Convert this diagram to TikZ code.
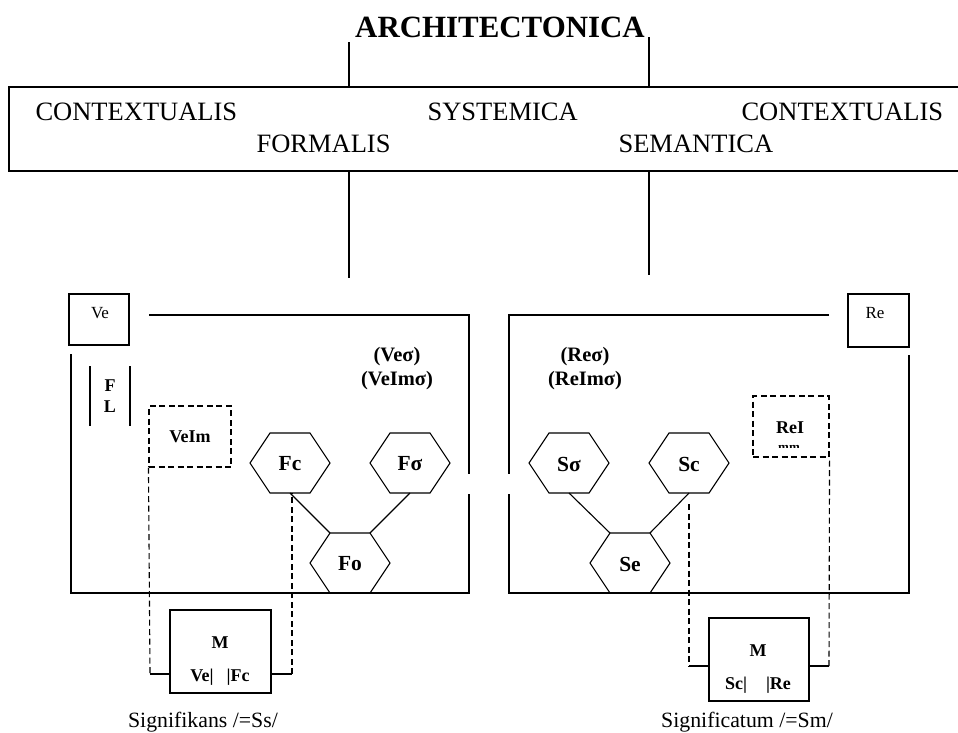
\documentclass[tikz,border=0pt]{standalone}
\usepackage{fontspec}
\setmainfont{Liberation Serif}
\usetikzlibrary{calc}
\tikzset{
  boxst/.style={draw, rectangle, inner sep=0pt},
  dsh/.style={dash pattern=on 6pt off 3.5pt},
  bigtxt/.style={font=\fontsize{26.5}{30}\selectfont, inner sep=0pt, anchor=base west},
  titlest/.style={font=\fontsize{30.9}{34}\selectfont\bfseries, inner sep=0pt, anchor=base},
  hexlabel/.style={font=\fontsize{21.5}{24}\selectfont\bfseries, inner sep=0pt},
  pantxt/.style={font=\fontsize{20.5}{23}\selectfont\bfseries, inner sep=0pt},
  smalltxt/.style={font=\fontsize{17}{19}\selectfont, inner sep=0pt},
  boldsm/.style={font=\fontsize{18}{20}\selectfont\bfseries, inner sep=0pt},
  captxt/.style={font=\fontsize{21.8}{25}\selectfont, inner sep=0pt},
}
\newcommand{\hexa}[4]{%
  \coordinate (#1-c) at (#2,#3);
  \draw ($(#1-c)+(-40,0)$) -- ($(#1-c)+(-20,-30)$) -- ($(#1-c)+(20,-30)$) -- ($(#1-c)+(40,0)$) -- ($(#1-c)+(20,30)$) -- ($(#1-c)+(-20,30)$) -- cycle;
  \coordinate (#1-tl) at ($(#1-c)+(-20,-30)$);
  \coordinate (#1-tr) at ($(#1-c)+(20,-30)$);
  \coordinate (#1-b) at ($(#1-c)+(0,30)$);
  \node[hexlabel] (#1) at ($(#1-c)+(0,1)$) {#4};
}
\begin{document}
\begin{tikzpicture}[x=1pt, y=-1pt, line width=1.1pt]
\useasboundingbox (0,0) rectangle (958,732);

% title and top frame
\node[titlest] (title) at (500,37) {ARCHITECTONICA};
\draw (9,87) rectangle (965,171);
\coordinate (big-tl) at (349,87);
\coordinate (big-tr) at (649,87);
\coordinate (big-bl) at (349,171);
\coordinate (big-br) at (649,171);
\coordinate (t1) at (349,42);
\coordinate (t2) at (649,37);
\coordinate (b1) at (349,278);
\coordinate (b2) at (649,275);
\draw (t1) -- (big-tl);
\draw (t2) -- (big-tr);
\draw (big-bl) -- (b1);
\draw (big-br) -- (b2);

\node[bigtxt] (c1) at (35,120) {CONTEXTUALIS};
\node[bigtxt] (sy) at (427,120) {SYSTEMICA};
\node[bigtxt] (c2) at (741,120) {CONTEXTUALIS};
\node[bigtxt] (fo) at (256,152) {FORMALIS};
\node[bigtxt] (se) at (618,152) {SEMANTICA};

% left panel
\node[boxst, minimum width=60, minimum height=51] (vebox) at (99,319.5) {};
\node[smalltxt] (vetxt) at (100,313) {Ve};
\draw (149,315) -- (469,315) -- (469,474);
\draw (469,494) -- (469,593) -- (71,593) -- (71,354);
\draw (90,366) -- (90,426);
\draw (130,366) -- (130,426);
\node[boldsm] (ftxt) at (110,386) {F};
\node[boldsm] (ltxt) at (110,407) {L};
\node[pantxt] (vesig) at (397,357) {(Veσ)};
\node[pantxt] (veimsig) at (397,381) {(VeImσ)};
\node[boxst, dsh, minimum width=82, minimum height=61] (veim) at (190,436.5) {};
\node[boldsm] (veimtxt) at (190,437) {VeIm};

\hexa{Fc}{290}{463}{Fc}
\hexa{Fs}{410}{463}{Fσ}
\hexa{Fo}{350}{563}{Fo}
\draw (Fc-b) -- (Fo-tl);
\draw (Fs-b) -- (Fo-tr);

\node[boxst, minimum width=101, minimum height=83] (mleft) at (220.5,651.5) {};
\node[boldsm] (mlt) at (220,643) {M};
\node[boldsm] (mlb) at (220,677) {Ve|\hspace{13pt}|Fc};
\coordinate (lk1) at (150,674);
\coordinate (lk2) at (292,674);
\draw[dsh] (veim.south west) -- (lk1);
\draw (lk1) -- (lk1 -| mleft.west);
\draw (mleft.east |- lk2) -- (lk2);
\draw[dsh] (lk2) -- (lk2 |- Fc-b);
\node[captxt] (sgk) at (203,722) {Signifikans /=Ss/};

% right panel
\node[boxst, minimum width=61, minimum height=53] (rebox) at (878.5,320.5) {};
\node[smalltxt] (retxt) at (875,313) {Re};
\draw (829,315) -- (509,315) -- (509,474);
\draw (509,494) -- (509,593) -- (909,593) -- (909,355);
\node[pantxt] (resig) at (585,357) {(Reσ)};
\node[pantxt] (reimsig) at (585,381) {(ReImσ)};
\node[boxst, dsh, minimum width=76, minimum height=61] (rei) at (791,426.5) {};
\node[boldsm] (reitxt) at (790,428) {ReI};
\begin{scope}
  \clip (760,440) rectangle (820,447.5);
  \node[font=\fontsize{13}{15}\selectfont\bfseries, inner sep=0pt, anchor=north] (mm) at (789,445) {mm};
\end{scope}

\hexa{Ss}{569}{463}{Sσ}
\hexa{Sc}{689}{463}{Sc}
\hexa{Se}{630}{563}{Se}
\draw (Ss-b) -- (Se-tl);
\draw (Sc-b) -- (Se-tr);

\node[boxst, minimum width=100, minimum height=83] (mright) at (759,659.5) {};
\node[boldsm] (mrt) at (758,651) {M};
\node[boldsm] (mrb) at (758,685) {Sc|\hspace{19pt}|Re};
\coordinate (scd) at ($(Sc-b)+(0,11)$);
\coordinate (rk1) at (689,666);
\coordinate (rk2) at (829,666);
\draw[dsh] (scd) -- (rk1);
\draw (rk1) -- (rk1 -| mright.west);
\draw (mright.east |- rk2) -- (rk2);
\draw[dsh] (rk2) -- (rei.south east);
\node[captxt] (sgm) at (747,722) {Significatum /=Sm/};
\end{tikzpicture}
\end{document}
